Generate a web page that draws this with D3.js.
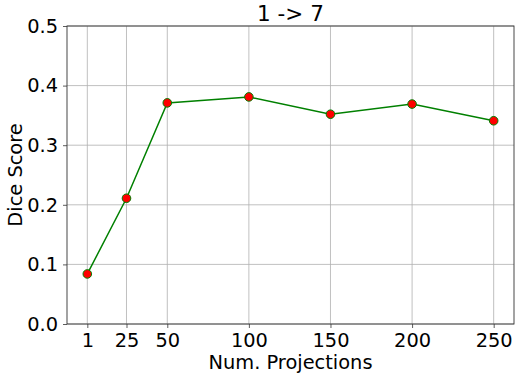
<!DOCTYPE html>
<html>
<head>
<meta charset="utf-8">
<script src="https://cdn.jsdelivr.net/npm/d3@7"></script>
<style>
  html, body { margin: 0; padding: 0; background: #fff; overflow: hidden; }
  svg { display: block; font-family: "DejaVu Sans", sans-serif; }
</style>
</head>
<body>
<svg id="chart"></svg>
<script>
// data
const projections = [1, 25, 50, 100, 150, 200, 250];
const diceScores = [0.084, 0.211, 0.371, 0.381, 0.352, 0.369, 0.341];
const yTicks = [0.0, 0.1, 0.2, 0.3, 0.4, 0.5];
const titleText = "1 -> 7";

const width = 519, height = 376;
const margin = { top: 26, right: 5, bottom: 52, left: 67 };
const innerWidth = width - margin.left - margin.right;
const innerHeight = height - margin.top - margin.bottom;

const svg = d3.select("#chart").attr("width", width).attr("height", height);
const g = svg.append("g").attr("transform", `translate(${margin.left}, ${margin.top})`);

// matplotlib style 5% padding on x
const pad = (d3.max(projections) - d3.min(projections)) * 0.05;
const x = d3.scaleLinear()
    .domain([d3.min(projections) - pad, d3.max(projections) + pad])
    .range([0, innerWidth]);
const y = d3.scaleLinear().domain([0, 0.5]).range([innerHeight, 0]);

// grid
g.append("g").selectAll("line")
    .data(projections)
    .enter().append("line")
    .attr("x1", d => x(d)).attr("x2", d => x(d))
    .attr("y1", 0).attr("y2", innerHeight)
    .attr("stroke", "#b0b0b0").attr("stroke-width", 0.8);
g.append("g").selectAll("line")
    .data(yTicks)
    .enter().append("line")
    .attr("x1", 0).attr("x2", innerWidth)
    .attr("y1", d => y(d)).attr("y2", d => y(d))
    .attr("stroke", "#b0b0b0").attr("stroke-width", 0.8);

// axes
const xAxis = g.append("g")
    .attr("transform", `translate(0, ${innerHeight})`)
    .call(d3.axisBottom(x).tickValues(projections).tickSize(4).tickPadding(5).tickFormat(d3.format("d")));
const yAxis = g.append("g")
    .call(d3.axisLeft(y).tickValues(yTicks).tickSize(4).tickPadding(5).tickFormat(d3.format(".1f")));

[xAxis, yAxis].forEach(ax => {
    ax.attr("font-size", null).attr("font-family", null);
    ax.select(".domain").remove();
    ax.selectAll(".tick line").attr("stroke", "#333").attr("stroke-width", 0.8);
    ax.selectAll(".tick text")
        .attr("fill", "#000")
        .style("font-size", "19.4px");
});

// frame
g.append("rect")
    .attr("width", innerWidth).attr("height", innerHeight)
    .attr("fill", "none").attr("stroke", "#333").attr("stroke-width", 0.9);

// line + markers
const pts = projections.map((p, i) => ({ p, v: diceScores[i] }));
g.append("path")
    .datum(pts)
    .attr("fill", "none")
    .attr("stroke", "green")
    .attr("stroke-width", 1.5)
    .attr("d", d3.line().x(d => x(d.p)).y(d => y(d.v)));

g.selectAll("circle")
    .data(pts)
    .enter().append("circle")
    .attr("cx", d => x(d.p))
    .attr("cy", d => y(d.v))
    .attr("r", 4.3)
    .attr("fill", "red")
    .attr("stroke", "green")
    .attr("stroke-width", 1);

// labels
svg.append("text")
    .attr("x", margin.left + innerWidth / 2)
    .attr("y", 21)
    .attr("text-anchor", "middle")
    .style("font-size", "21.5px")
    .text(titleText);

svg.append("text")
    .attr("x", margin.left + innerWidth / 2)
    .attr("y", 369)
    .attr("text-anchor", "middle")
    .style("font-size", "19.4px")
    .text("Num. Projections");

svg.append("text")
    .attr("transform", `translate(21.5, ${margin.top + innerHeight / 2}) rotate(-90)`)
    .attr("text-anchor", "middle")
    .style("font-size", "19.4px")
    .text("Dice Score");
</script>
</body>
</html>
